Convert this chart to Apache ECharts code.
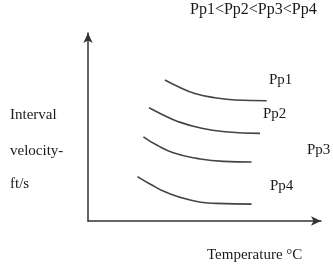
<!DOCTYPE html>
<html><head><meta charset="utf-8">
<script src="https://cdn.jsdelivr.net/npm/echarts@6/dist/echarts.min.js"></script>
<style>html,body{margin:0;padding:0;background:#fff}#c{width:333px;height:270px}</style>
</head><body><div id="c"></div>
<script>
const seriesNames = ['Pp1', 'Pp2', 'Pp3', 'Pp4'];
const pp1 = [[33.0, 75.0], [38.8, 71.4], [45.9, 67.8], [54.5, 65.6], [63.1, 64.4], [76.7, 64.0]];
const pp2 = [[26.2, 60.2], [31.8, 56.7], [38.8, 52.8], [48.8, 49.3], [58.8, 47.5], [73.8, 46.6]];
const pp3 = [[23.8, 44.8], [29.5, 40.4], [36.6, 36.3], [46.7, 33.3], [58.1, 31.7], [70.2, 31.4]];
const pp4 = [[21.2, 23.6], [26.6, 19.7], [33.8, 15.1], [43.8, 11.2], [55.2, 9.4], [70.2, 9.0]];
const allData = [pp1, pp2, pp3, pp4];
const titleText = 'Pp1<Pp2<Pp3<Pp4';
const yLabelLines = ['Interval', 'velocity-', 'ft/s'];
const xLabel = 'Temperature \u00b0C';

const font = '"Liberation Serif", "DejaVu Serif", serif';
const chart = echarts.init(document.getElementById('c'), null, {renderer: 'canvas'});
const txt = (x, y, s, size) => ({type: 'text', left: x, top: y, style: {text: s, font: (size || 15) + 'px ' + font, fill: '#1a1a1a'}});
const labelPos = [[269, 73], [263, 107], [307, 143], [270, 179]];
chart.setOption({
  backgroundColor: '#fff',
  animation: false,
  grid: {left: 88, right: 12, top: 33, bottom: 49},
  xAxis: {type: 'value', min: 0, max: 100, axisLabel: {show: false}, axisTick: {show: false}, splitLine: {show: false},
    axisLine: {onZero: false, symbol: ['none', 'arrow'], symbolSize: [7, 10], lineStyle: {color: '#333', width: 1.5}}},
  yAxis: {type: 'value', min: 0, max: 100, axisLabel: {show: false}, axisTick: {show: false}, splitLine: {show: false},
    axisLine: {show: true, onZero: false, symbol: ['none', 'arrow'], symbolSize: [7, 10], lineStyle: {color: '#333', width: 1.5}}},
  series: allData.map((d, i) => ({
    name: seriesNames[i], type: 'line', data: d, smooth: 0.5, showSymbol: false,
    lineStyle: {color: '#444', width: 1.6}
  })),
  graphic: [
    txt(190, 2, titleText, 16),
    txt(10, 108, yLabelLines[0]),
    txt(10, 144, yLabelLines[1]),
    txt(10, 177, yLabelLines[2]),
    txt(207, 248, xLabel),
    ...seriesNames.map((n, i) => txt(labelPos[i][0], labelPos[i][1], n))
  ]
});
</script></body></html>
